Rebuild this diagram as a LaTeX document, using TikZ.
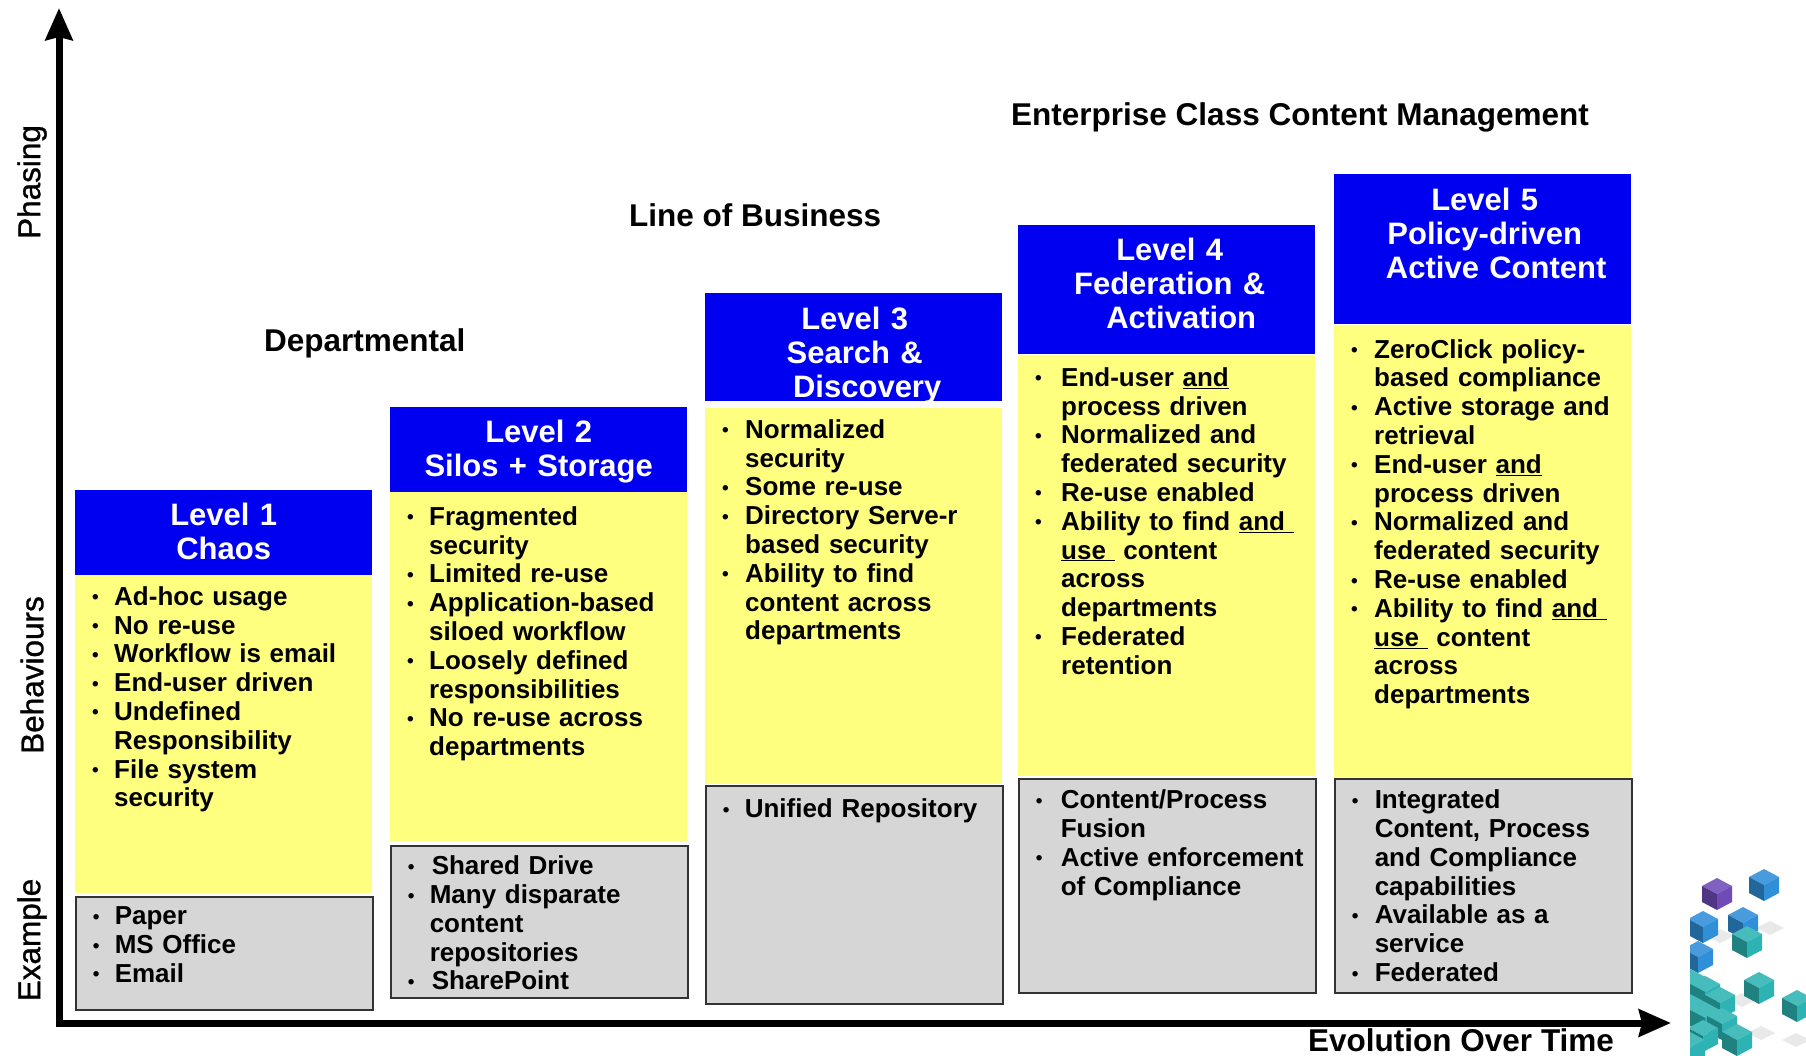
\documentclass[tikz,border=0pt]{standalone}
\usepackage{fontspec}
\setmainfont{Liberation Sans}
\newfontfamily\medfont[FakeBold=1]{Liberation Sans}
\usetikzlibrary{arrows.meta}
\definecolor{lvlblue}{HTML}{0000F0}
\definecolor{lvlyellow}{HTML}{FFFF7F}
\definecolor{lvlgray}{HTML}{D6D6D6}
\definecolor{cubeblue}{HTML}{2F8FD8}
\definecolor{cubeteal}{HTML}{2DB3B3}
\definecolor{cubepurple}{HTML}{6F4AB8}
\newcommand{\ind}{39pt}
\newcommand{\bl}{\makebox[\ind][l]{\hspace{17pt}\raisebox{1.5pt}{\fontsize{19}{19}\selectfont\textbullet}}}
\newcommand{\cl}{\hspace*{\ind}}
\tikzset{
  lvlhead/.style 2 args={anchor=north west,fill=lvlblue,text=white,inner sep=0pt,text width=297pt,align=center,
    font=\fontsize{31}{34.2}\selectfont\bfseries,text height=#1,text depth=#2},
  lvlbody/.style 2 args={anchor=north west,fill=lvlyellow,inner sep=0pt,text width=297pt,align=left,
    font=\fontsize{26}{28.8}\selectfont\bfseries,text height=#1,text depth=#2},
  lvlex/.style 2 args={anchor=north west,fill=lvlgray,draw=black!80,line width=1.5pt,inner sep=0pt,text width=297pt,align=left,
    font=\fontsize{26}{28.8}\selectfont\bfseries,text height=#1,text depth=#2},
  phase/.style={anchor=west,inner sep=0pt,font=\fontsize{31.5}{36}\selectfont\bfseries},
  axlabel/.style={rotate=90,inner sep=0pt,font=\fontsize{31.5}{36}\selectfont\medfont},
}
\begin{document}
\begin{tikzpicture}[x=1pt,y=-1pt,line join=miter,>={Stealth[length=32pt,width=27pt,inset=3pt]}]
  \useasboundingbox (0,0) rectangle (1806,1056);
  % level 1
  \node[lvlhead={35}{50}] (heada) at (75,490) {Level 1\\Chaos};
  \node[lvlbody={30}{288}] (bodya) at (75,575) {\bl Ad-hoc usage\\\bl No re-use\\\bl Workflow is email\\\bl End-user driven\\\bl Undefined\\\cl Responsibility\\\bl File system\\\cl security};
  \node[lvlex={28}{85}] (exa) at (75,896) {\bl Paper\\\bl MS Office\\\bl Email};
  % level 2
  \node[lvlhead={35}{50}] (headb) at (390,407) {Level 2\\Silos + Storage};
  \node[lvlbody={33}{316}] (bodyb) at (390,492) {\bl Fragmented\\\cl security\\\bl Limited re-use\\\bl Application-based\\\cl siloed workflow\\\bl Loosely defined\\\cl responsibilities\\\bl No re-use across\\\cl departments};
  \node[lvlex={29}{123}] (exb) at (390,845) {\bl\hspace{2pt}Shared Drive\\\bl Many disparate\\\cl content\\\cl repositories\\\bl\hspace{2pt}SharePoint};
  % level 3
  \node[lvlhead={36}{72}] (headc) at (705,293) {\hspace*{2pt}Level 3\\\hspace*{2pt}Search \&\\\hspace*{27pt}Discovery};
  \node[lvlbody={30}{346}] (bodyc) at (705,408) {\renewcommand{\ind}{40pt}\bl Normalized\\\cl security\\\bl Some re-use\\\bl Directory Serve-r\\\cl based security\\\bl Ability to find\\\cl content across\\\cl departments};
  \node[lvlex={32}{186}] (exc) at (705,785) {\bl Unified Repository};
  % level 4
  \node[lvlhead={35}{94}] (headd) at (1018,225) {\hspace*{6pt}Level 4\\\hspace*{6pt}Federation \&\\\hspace*{29pt}Activation};
  \node[lvlbody={31}{390}] (bodyd) at (1018,355) {\renewcommand{\ind}{43pt}\bl End-user \underline{and}\\\cl process driven\\\bl Normalized and\\\cl federated security\\\bl Re-use enabled\\\bl Ability to find \underline{and\ }\\\cl\underline{use\ } content\\\cl across\\\cl departments\\\bl Federated\\\cl retention};
  \node[lvlex={30}{184}] (exd) at (1018,778) {\renewcommand{\ind}{42pt}\bl Content/Process\\\cl Fusion\\\bl Active enforcement\\\cl of Compliance};
  % level 5
  \node[lvlhead={36}{114}] (heade) at (1334,174) {\hspace*{4pt}Level 5\\\hspace*{4pt}Policy-driven\\\hspace*{27pt}Active Content};
  \node[lvlbody={33}{419}] (bodye) at (1334,325) {\renewcommand{\ind}{40pt}\bl ZeroClick policy-\\\cl based compliance\\\bl Active storage and\\\cl retrieval\\\bl End-user \underline{and}\\\cl process driven\\\bl Normalized and\\\cl federated security\\\bl Re-use enabled\\\bl Ability to find \underline{and\ }\\\cl\underline{use\ } content\\\cl across\\\cl departments};
  \node[lvlex={30}{184}] (exe) at (1334,778) {\renewcommand{\ind}{40pt}\bl Integrated\\\cl Content, Process\\\cl and Compliance\\\cl capabilities\\\bl Available as a\\\cl service\\\bl Federated};
  % titles
  \node[phase] (deptitle) at (264,343) {Departmental};
  \node[phase] (lobtitle) at (629,215) {Line of Business};
  \node[phase] (enttitle) at (1011,117) {Enterprise Class Content Management};
  \node[phase] (evotitle) at (1308,1040) {Evolution Over Time};
  % axes
  \coordinate (orig) at (59,1023);
  \coordinate (ytip) at (59,8);
  \coordinate (xtip) at (1671,1023);
  \draw[<->,line width=7pt] (ytip) -- (orig) -- (xtip);
  \node[axlabel] (phasing) at (32,182) {Phasing};
  \node[axlabel] (behav) at (32,675) {Behaviours};
  \node[axlabel] (exlabel) at (32,940) {Example};
  % cubes
  \begin{scope}
    \clip (1690,840) rectangle (1806,1056);
    \foreach \sx/\sy in {1770/928,1720/936,1742/1000,1761/1033,1796/1040,1700/980}
      \fill[black!12,opacity=.7] (\sx-14,\sy) -- (\sx,\sy-7) -- (\sx+14,\sy) -- (\sx,\sy+7) -- cycle;
    \foreach \cx/\cy/\cc in {1717/894/cubepurple,1764/885/cubeblue,1703/927/cubeblue,1743/923/cubeblue,1747/942/cubeteal,1698/957/cubeblue,
      1759/988/cubeteal,1797/1006/cubeteal,1690/985/cubeteal,1705/992/cubeteal,1690/1010/cubeteal,1720/1003/cubeteal,1705/1018/cubeteal,1722/1024/cubeteal,1703/1036/cubeteal,1690/1048/cubeteal,1737/1040/cubeteal}{
      \fill[\cc!88!white] (\cx-15,\cy-8) -- (\cx,\cy-16) -- (\cx+15,\cy-8) -- (\cx,\cy) -- cycle;
      \fill[\cc!72!black] (\cx-15,\cy-8) -- (\cx,\cy) -- (\cx,\cy+16) -- (\cx-15,\cy+8) -- cycle;
      \fill[\cc] (\cx+15,\cy-8) -- (\cx,\cy) -- (\cx,\cy+16) -- (\cx+15,\cy+8) -- cycle;
    }
  \end{scope}
\end{tikzpicture}
\end{document}
